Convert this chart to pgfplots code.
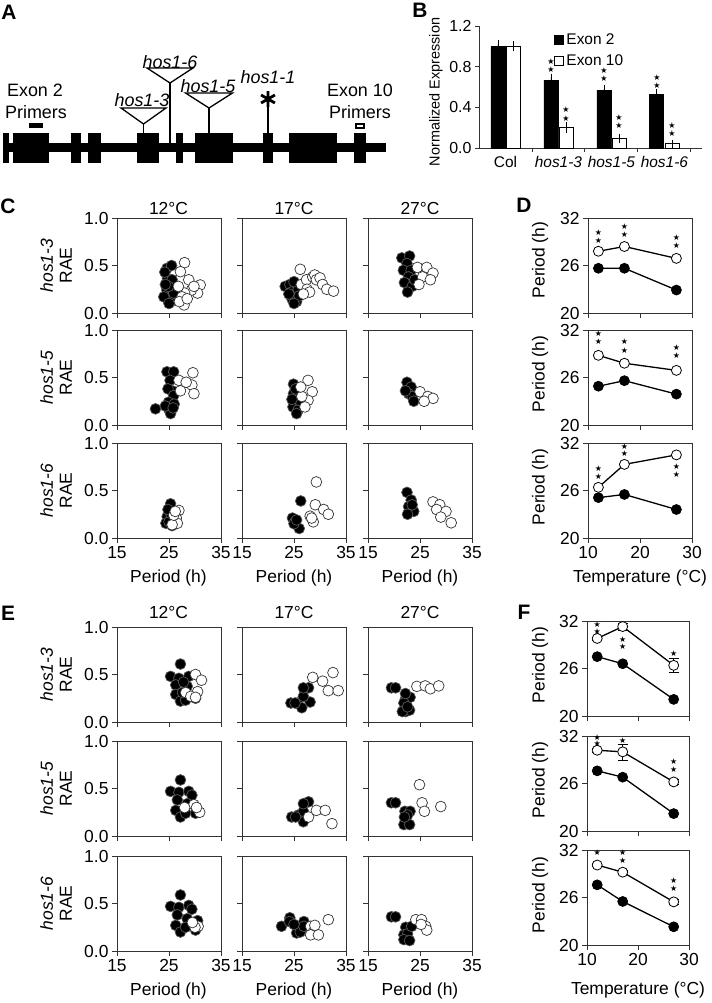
\documentclass[border=0pt]{standalone}
\usepackage{fontspec}
\setmainfont{Liberation Sans}
\newfontfamily\symfont{DejaVu Sans}
\usepackage{pgfplots}
\pgfplotsset{compat=1.18}

\newcommand\fa{\fontsize{17.5}{19}\selectfont}
\newcommand\fb{\fontsize{14.5}{16}\selectfont}
\newcommand\fbt{\fontsize{16}{18}\selectfont}
\newcommand\fbl{\fontsize{15.5}{18}\selectfont}
\newcommand\fg{\fontsize{18}{20}\selectfont}
\newcommand\fl{\fontsize{21}{24}\selectfont\bfseries}
\newcommand\st{{\symfont\fontsize{8}{8}\selectfont ★}}

\pgfplotsset{
  every axis/.append style={/pgf/number format/assume math mode=true},
  base/.style={scale only axis, anchor=south west, tick pos=left, tick align=outside,
    major tick length=5bp, axis line style={black!80, line width=0.9bp},
    tick style={black!80, line width=0.9bp}, tick label style={font=\fa}, clip=false},
  scat/.style={base, width=104bp, height=95bp, xmin=15, xmax=35, ymin=0, ymax=1,
    xtick={15,25,35}, ytick={0,0.5,1}, xticklabels={}, yticklabels={}},
  temp/.style={base, width=104bp, height=95bp, xmin=10, xmax=30, ymin=20, ymax=32,
    xtick={10,20,30}, ytick={20,26,32}, xticklabels={}, yticklabels={20,26,32}},
  blk/.style={only marks, mark=*, mark size=5.4bp, mark options={fill=black, draw=black!65, line width=0.7bp}},
  wht/.style={only marks, mark=*, mark size=5.4bp, mark options={fill=white, draw=black!80, line width=0.7bp}},
  lblk/.style={black, line width=1.3bp, mark=*, mark size=5bp, mark options={fill=black, draw=black, line width=0.7bp}},
  lwht/.style={black, line width=1.3bp, mark=*, mark size=5bp, mark options={fill=white, draw=black, line width=0.8bp}},
  stars/.style={only marks, mark=*, mark size=0pt, mark options={draw=none, fill=none},
    nodes near coords={\st}, every node near coord/.style={anchor=center, inner sep=0pt}},
}

% scatter panel: left, bottom, options, black points, white points
\newcommand{\scatpanel}[5]{%
\begin{axis}[scat, at={(#1bp,-#2bp)}, #3]
\addplot[blk] coordinates {#4};
\addplot[wht] coordinates {#5};
\end{axis}}

% temperature panel: left, bottom, options, black, white, stars
\newcommand{\temppanel}[6]{%
\begin{axis}[temp, at={(#1bp,-#2bp)}, #3]
\addplot[lblk] coordinates {#4};
\addplot[lwht, error bars/.cd, y dir=both, y explicit, error bar style={line width=0.8bp}] coordinates {#5};
\addplot[stars] coordinates {#6};
\end{axis}}

\newcommand{\exon}[2]{\addplot[fill=black, draw=none] coordinates {(#1,133)(#2,133)(#2,163)(#1,163)} -- cycle;}

\begin{document}
\begin{tikzpicture}
\path[use as bounding box] (0,0) rectangle (712bp,-1003bp);

% ---------- A: gene model ----------
\begin{axis}[at={(0bp,-170bp)}, anchor=south west, scale only axis, width=400bp, height=170bp,
  xmin=0, xmax=400, ymin=0, ymax=170, y dir=reverse, hide axis, clip=false]
\addplot[fill=black, draw=none] coordinates {(3,143)(386,143)(386,152)(3,152)} -- cycle;
\addplot[fill=black, draw=none] coordinates {(3,133)(9.3,133)(9.3,163)(3,163)} -- cycle;
\exon{12.7}{49.3}
\exon{71}{81}
\exon{88}{101}
\exon{137}{159}
\exon{176}{183}
\exon{195}{233}
\exon{263}{273}
\exon{289}{337}
\exon{354}{366}
% primers
\addplot[fill=black, draw=none] coordinates {(29,123)(43,123)(43,127.5)(29,127.5)} -- cycle;
\addplot[fill=white, draw=black, line width=2bp] coordinates {(356,123.5)(363.5,123.5)(363.5,127.5)(356,127.5)} -- cycle;
% insertions
\addplot[black, line width=1.3bp] coordinates {(143.5,124)(143.5,133)};
\addplot[fill=white, draw=black, line width=1.3bp] coordinates {(121,108)(166,108)(143.5,124)} -- cycle;
\addplot[black, line width=1.3bp] coordinates {(170,83)(170,143)};
\addplot[fill=white, draw=black, line width=1.3bp] coordinates {(147,68)(193,68)(170,83)} -- cycle;
\addplot[black, line width=1.3bp] coordinates {(209,108)(209,133)};
\addplot[fill=white, draw=black, line width=1.3bp] coordinates {(185.5,93)(232.5,93)(209,108)} -- cycle;
\addplot[black, line width=1.3bp] coordinates {(268,106)(268,133)};
\addplot[only marks, mark=asterisk, mark size=8bp, mark options={line width=2.8bp}] coordinates {(268,99)};
\node[font=\fg\itshape] at (170,62) {hos1-6};
\node[font=\fg\itshape] at (142,100) {hos1-3};
\node[font=\fg\itshape] at (208,86) {hos1-5};
\node[font=\fg\itshape] at (268,77) {hos1-1};
\node[font=\fg] at (35,90) {Exon 2};
\node[font=\fg] at (36,112) {Primers};
\node[font=\fg] at (360,90) {Exon 10};
\node[font=\fg] at (360,112) {Primers};
\end{axis}

% ---------- B: expression bars ----------
\begin{axis}[at={(479bp,-148bp)}, anchor=south west, scale only axis, width=223bp, height=122bp,
  xmin=-0.5, xmax=3.71, ymin=0, ymax=1.2, axis lines*=left,
  axis line style={black!80, line width=0.9bp}, tick style={black!80, line width=0.9bp},
  tick align=outside, major tick length=4bp, tick label style={font=\fbt},
  ytick={0,0.4,0.8,1.2}, yticklabels={0.0,0.4,0.8,1.2},
  xtick={0.5,1.5,2.5,3.5}, xticklabels={},
  extra x ticks={0,1,2,3}, extra x tick labels={Col,\textit{hos1-3},\textit{hos1-5},\textit{hos1-6}},
  extra x tick style={major tick length=0pt, tick label style={font=\fbl, yshift=-5bp}},
  legend style={at={(0.334,0.945)}, anchor=north west, draw=none, fill=none, font=\fbl,
    inner sep=0pt, row sep=8bp, nodes={inner sep=0.4bp}},
  legend cell align=left,
  legend image code/.code={\draw[#1, line width=0.8bp] (0bp,-4.5bp) rectangle (9bp,4.5bp);},
  clip=false]
\addplot[ybar, bar width=14bp, fill=black, draw=black, line width=0.8bp,
  error bars/.cd, y dir=both, y explicit, error mark options={mark size=3.5bp, line width=0.8bp},
  error bar style={line width=0.8bp}]
  coordinates {(-0.142,0.996) +- (0,0.03) (0.858,0.668) +- (0,0.03) (1.858,0.57) +- (0,0.012) (2.858,0.528) +- (0,0.022)};
\addlegendentry{\,Exon 2}
\addplot[ybar, bar width=14bp, fill=white, draw=black, line width=0.8bp,
  error bars/.cd, y dir=both, y explicit, error mark options={mark size=3.5bp, line width=0.8bp},
  error bar style={line width=0.8bp}]
  coordinates {(0.142,1.0) +- (0,0.015) (1.142,0.20) +- (0,0.02) (2.142,0.098) +- (0,0.01) (3.142,0.042) +- (0,0.005)};
\addlegendentry{\,Exon 10}
\addplot[stars, forget plot] coordinates {(0.858,0.848)(0.858,0.766)(1.142,0.375)(1.142,0.293)
  (1.858,0.762)(1.858,0.687)(2.142,0.30)(2.142,0.218)
  (2.858,0.691)(2.858,0.613)(3.142,0.218)(3.142,0.137)};
\end{axis}
\node[font=\fb, rotate=90] at (436bp,-92bp) {Normalized Expression};

% ---------- panel letters ----------
\node[font=\fl] at (9bp,-12bp) {A};
\node[font=\fl] at (420bp,-10bp) {B};
\node[font=\fl] at (8bp,-206bp) {C};
\node[font=\fl] at (524bp,-205bp) {D};
\node[font=\fl] at (8bp,-613bp) {E};
\node[font=\fl] at (524bp,-612bp) {F};

% ---------- C: scatter, row 1 (hos1-3) ----------
\scatpanel{117}{313}{yticklabels={0.0,0.5,1.0}}
 {(24.6,0.47)(24.7,0.365)(25.6,0.35)(24.6,0.24)(24.6,0.155)(25.3,0.12)(25.9,0.21)(24.9,0.28)(24.0,0.17)(25.5,0.50)(24.3,0.30)(25.0,0.10)(24.2,0.43)}
 {(28.0,0.53)(27.2,0.435)(28.8,0.35)(31.0,0.295)(30.5,0.21)(29.3,0.24)(28.0,0.21)(27.5,0.17)(27.9,0.085)(26.8,0.28)(29.8,0.28)(27.0,0.12)(28.5,0.15)}
\scatpanel{242}{313}{}
 {(23.3,0.28)(24.2,0.30)(24.5,0.22)(25.2,0.20)(25.5,0.12)(24.6,0.15)(25.8,0.25)(25.0,0.33)(26.0,0.18)(24.0,0.20)(25.0,0.10)}
 {(26.2,0.46)(26.4,0.30)(27.4,0.35)(28.6,0.38)(29.0,0.40)(29.3,0.35)(30.0,0.37)(30.5,0.30)(31.3,0.25)(32.6,0.23)(27.5,0.25)(28.0,0.22)(26.8,0.20)}
\scatpanel{368}{313}{}
 {(21.5,0.58)(23.0,0.60)(22.5,0.52)(21.8,0.45)(23.3,0.45)(22.8,0.38)(22.0,0.32)(23.5,0.28)(22.6,0.22)(24.0,0.35)}
 {(24.5,0.48)(26.3,0.48)(27.5,0.42)(25.5,0.38)(27.0,0.35)(24.8,0.30)}
% row 2 (hos1-5)
\scatpanel{117}{425}{yticklabels={0.0,0.5,1.0}}
 {(24.6,0.56)(25.9,0.56)(25.2,0.47)(25.6,0.36)(24.8,0.38)(25.9,0.31)(22.4,0.17)(24.9,0.24)(24.9,0.17)(26.0,0.22)(25.3,0.12)(24.3,0.20)(25.8,0.18)}
 {(26.9,0.47)(29.6,0.55)(29.4,0.42)(29.8,0.33)(27.2,0.36)(28.3,0.45)}
\scatpanel{242}{425}{}
 {(24.9,0.43)(24.9,0.33)(24.8,0.19)(25.8,0.16)(25.5,0.12)(26.0,0.26)(25.3,0.38)(24.6,0.27)}
 {(27.7,0.47)(28.5,0.35)(27.7,0.26)(27.1,0.19)(26.5,0.30)(26.3,0.40)}
\scatpanel{368}{425}{}
 {(22.5,0.45)(23.3,0.40)(22.8,0.33)(23.5,0.30)(22.2,0.36)(23.8,0.25)}
 {(25.0,0.35)(26.5,0.30)(27.5,0.28)(25.8,0.25)}
% row 3 (hos1-6)
\scatpanel{117}{538}{yticklabels={0.0,0.5,1.0}, xticklabels={15,25,35}}
 {(25.3,0.36)(24.65,0.225)(24.4,0.155)(25.0,0.17)(25.3,0.26)(24.8,0.30)(25.6,0.13)}
 {(26.9,0.29)(26.4,0.21)(26.6,0.155)(25.6,0.14)(25.9,0.24)(26.2,0.28)}
\scatpanel{242}{538}{xticklabels={15,25,35}}
 {(26.3,0.39)(24.7,0.21)(25.2,0.17)(26.0,0.10)(25.0,0.15)(25.5,0.19)}
 {(29.3,0.59)(29.1,0.35)(30.7,0.30)(31.6,0.25)(28.1,0.23)(28.7,0.17)(28.4,0.21)}
\scatpanel{368}{538}{xticklabels={15,25,35}}
 {(22.5,0.48)(23.3,0.40)(22.8,0.33)(23.8,0.28)(22.6,0.25)(23.5,0.35)}
 {(27.5,0.38)(28.8,0.35)(28.2,0.30)(30.0,0.28)(29.0,0.22)(31.0,0.16)}

% ---------- E: scatter ----------
\scatpanel{117}{722}{yticklabels={0.0,0.5,1.0}}
 {(27.2,0.61)(25.3,0.48)(26.9,0.46)(28.8,0.48)(26.3,0.39)(28.5,0.375)(26.3,0.29)(27.2,0.22)(28.2,0.23)(30.1,0.25)(27.6,0.31)(27.8,0.42)}
 {(30.1,0.50)(31.25,0.44)(30.5,0.32)(28.2,0.31)(29.2,0.27)(30.1,0.26)}
\scatpanel{242}{722}{}
 {(24.4,0.20)(25.7,0.20)(28.1,0.21)(26.8,0.27)(27.8,0.36)(26.8,0.36)(26.5,0.15)(25.2,0.20)}
 {(28.6,0.47)(30.5,0.43)(32.5,0.52)(31.6,0.33)(33.5,0.33)}
\scatpanel{368}{722}{}
 {(19.5,0.36)(20.3,0.36)(22.25,0.25)(23.1,0.26)(21.9,0.20)(22.25,0.11)(23.0,0.125)(21.6,0.11)(22.6,0.16)(22.2,0.30)}
 {(24.4,0.375)(26.0,0.38)(27.0,0.35)(28.6,0.38)}
\scatpanel{117}{836}{yticklabels={0.0,0.5,1.0}}
 {(27.2,0.59)(25.3,0.47)(26.9,0.46)(28.8,0.47)(29.4,0.43)(26.6,0.38)(28.5,0.34)(26.3,0.27)(27.2,0.20)(30.1,0.24)(28.2,0.24)}
 {(29.8,0.33)(30.9,0.25)(30.3,0.30)(28.0,0.30)}
\scatpanel{242}{836}{}
 {(24.55,0.20)(25.8,0.22)(26.8,0.26)(27.8,0.36)(26.8,0.34)(26.8,0.15)(25.3,0.20)}
 {(27.8,0.20)(29.3,0.27)(31.0,0.27)(32.3,0.13)}
\scatpanel{368}{836}{}
 {(19.5,0.35)(20.3,0.35)(22.1,0.26)(23.1,0.26)(22.25,0.17)(21.9,0.12)(23.0,0.12)(22.6,0.22)(22.0,0.20)}
 {(24.9,0.54)(25.4,0.35)(25.85,0.26)(29.0,0.31)}
\scatpanel{117}{951}{yticklabels={0.0,0.5,1.0}, xticklabels={15,25,35}}
 {(27.2,0.59)(25.3,0.47)(26.9,0.46)(28.8,0.48)(29.4,0.44)(26.6,0.38)(28.5,0.34)(26.3,0.27)(27.2,0.20)(30.1,0.22)(28.2,0.25)(30.5,0.32)}
 {(30.6,0.26)(30.0,0.25)(29.5,0.30)}
\scatpanel{242}{951}{xticklabels={15,25,35}}
 {(22.6,0.26)(24.2,0.35)(24.1,0.31)(25.5,0.26)(26.9,0.31)(25.5,0.19)(26.2,0.20)(26.9,0.26)(25.0,0.28)}
 {(28.2,0.26)(28.7,0.20)(28.2,0.17)(29.7,0.17)(31.6,0.33)(29.0,0.27)}
\scatpanel{368}{951}{xticklabels={15,25,35}}
 {(19.5,0.36)(20.3,0.36)(22.25,0.25)(21.9,0.17)(22.6,0.18)(21.9,0.12)(23.0,0.11)(23.4,0.26)}
 {(24.2,0.33)(25.3,0.33)(26.1,0.26)(26.3,0.22)(25.2,0.28)}

% column titles, axis labels
\foreach \yy in {208,612.5} {
  \node[font=\fa] at (168.5bp,-\yy bp) {12°C};
  \node[font=\fa] at (294bp,-\yy bp) {17°C};
  \node[font=\fa] at (420bp,-\yy bp) {27°C};
}
\foreach \yy in {578,991} {
  \node[font=\fa] at (168.5bp,-\yy bp) {Period (h)};
  \node[font=\fa] at (294bp,-\yy bp) {Period (h)};
  \node[font=\fa] at (420bp,-\yy bp) {Period (h)};
}
\node[font=\fa, rotate=90, align=center] at (56bp,-265.5bp) {\textit{hos1-3}\\RAE};
\node[font=\fa, rotate=90, align=center] at (56bp,-377.5bp) {\textit{hos1-5}\\RAE};
\node[font=\fa, rotate=90, align=center] at (56bp,-490.5bp) {\textit{hos1-6}\\RAE};
\node[font=\fa, rotate=90, align=center] at (56bp,-674.5bp) {\textit{hos1-3}\\RAE};
\node[font=\fa, rotate=90, align=center] at (56bp,-788.5bp) {\textit{hos1-5}\\RAE};
\node[font=\fa, rotate=90, align=center] at (56bp,-903.5bp) {\textit{hos1-6}\\RAE};

% ---------- D: period vs temperature ----------
\temppanel{588}{313}{}
 {(12,25.65)(17,25.65)(27,22.9)}
 {(12,27.8) +- (0,0) (17,28.4) +- (0,0) (27,26.9) +- (0,0)}
 {(12,30.2)(12,29.2)(17,30.9)(17,29.9)(27,29.5)(27,28.5)}
\temppanel{588}{425}{}
 {(12,24.9)(17,25.6)(27,23.9)}
 {(12,28.8) +- (0,0) (17,27.8) +- (0,0) (27,26.9) +- (0,0)}
 {(12,31.5)(12,30.5)(17,30.5)(17,29.4)(27,29.8)(27,28.8)}
\temppanel{588}{538}{xticklabels={10,20,30}}
 {(12,25.1)(17,25.5)(27,23.6)}
 {(12,26.4) +- (0,0) (17,29.3) +- (0,0) (27,30.5) +- (0,0)}
 {(12,28.7)(12,27.7)(17,31.6)(17,30.6)(27,29.0)(27,28.0)}
% ---------- F ----------
\temppanel{587}{716}{width=102bp}
 {(12,27.5)(17,26.6)(27,22.1)}
 {(12,29.8) +- (0,0.2) (17,31.3) +- (0,0.4) (27,26.4) +- (0,0.85)}
 {(12,31.5)(12,30.7)(17,29.7)(17,28.7)(27,27.9)}
\temppanel{587}{831}{width=102bp}
 {(12,27.6)(17,26.8)(27,22.2)}
 {(12,30.2) +- (0,0.3) (17,30.0) +- (0,1.0) (27,26.2) +- (0,0.3)}
 {(12,31.85)(12,31.05)(17,31.4)(27,28.7)(27,27.7)}
\temppanel{587}{945}{width=102bp, xticklabels={10,20,30}}
 {(12,27.6)(17,25.5)(27,22.3)}
 {(12,30.1) +- (0,0.2) (17,29.2) +- (0,0.3) (27,25.45) +- (0,0.3)}
 {(12,31.7)(17,31.7)(17,30.6)(27,28.1)(27,27.1)}

\node[font=\fa] at (640bp,-578bp) {Temperature (°C)};
\node[font=\fa] at (638bp,-990bp) {Temperature (°C)};
\foreach \yy in {260,374,487,665,780,895} {
  \node[font=\fa, rotate=90] at (540bp,-\yy bp) {Period (h)};
}
\end{tikzpicture}
\end{document}
